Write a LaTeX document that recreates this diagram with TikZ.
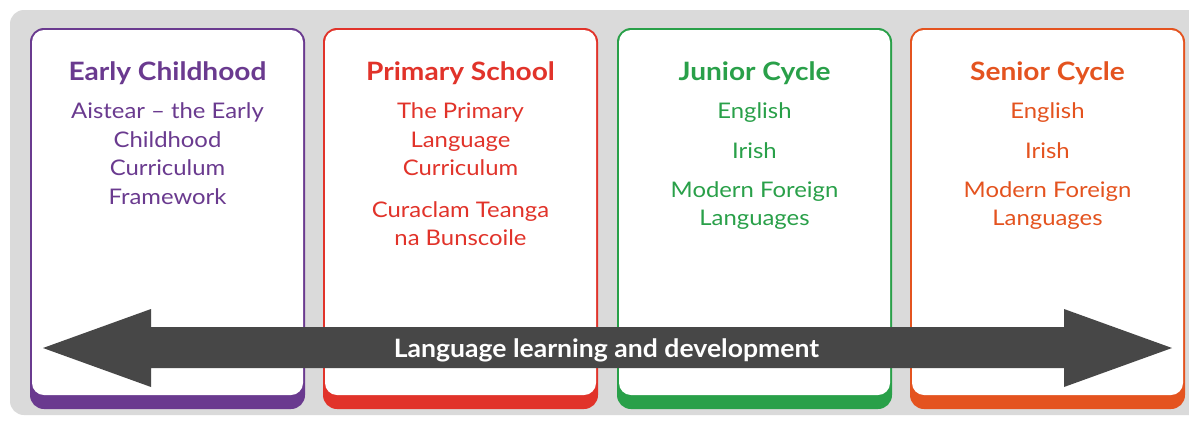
\documentclass[tikz,border=0pt]{standalone}
\usepackage{fontspec}
\setmainfont{Lato}[FakeStretch=1.11]
\newfontfamily\arrowfont{Lato}[FakeStretch=1.05]
\definecolor{cpurple}{HTML}{6A3A8F}
\definecolor{cred}{HTML}{E1332A}
\definecolor{cgreen}{HTML}{29A049}
\definecolor{corange}{HTML}{E4531F}
\definecolor{bggray}{HTML}{DADADA}
\definecolor{arrowgray}{HTML}{474747}
\tikzset{
  title/.style={anchor=base, font=\fontsize{25.3}{28}\selectfont\bfseries, inner sep=0pt},
  body/.style={anchor=base, font=\fontsize{21.5}{28.7}\selectfont, inner sep=0pt},
  arrowtext/.style={anchor=base, font=\arrowfont\fontsize{25.3}{28}\selectfont\bfseries, text=white, inner sep=0pt}
}
\newcommand{\card}[3]{% left x, colour, right x
  \fill[#2, rounded corners=14pt] (#1,28) rectangle (#3,409);
  \fill[white, rounded corners=12pt] (#1+2,30) rectangle (#3-2,395);
}
\begin{document}
\begin{tikzpicture}[x=1pt,y=-1pt]
\useasboundingbox (0,0) rectangle (1189,421);
\fill[white] (0,0) rectangle (1189,421);
\fill[bggray, rounded corners=14pt] (10,10) rectangle (1220,415);
\card{30}{cpurple}{305}
\card{323}{cred}{598}
\card{617}{cgreen}{892}
\card{910}{corange}{1185}
% Early Childhood
\node[title, text=cpurple] (t1) at (167.5,80.5) {Early Childhood};
\node[body, text=cpurple] (e1) at (167.5,118.5) {Aistear – the Early};
\node[body, text=cpurple] (e2) at (167.5,147.5) {Childhood};
\node[body, text=cpurple] (e3) at (167.5,175.5) {Curriculum};
\node[body, text=cpurple] (e4) at (167.5,204.5) {Framework};
% Primary School
\node[title, text=cred] (t2) at (460.5,80.5) {Primary School};
\node[body, text=cred] (p1) at (460.5,118.5) {The Primary};
\node[body, text=cred] (p2) at (460.5,147.5) {Language};
\node[body, text=cred] (p3) at (460.5,175.5) {Curriculum};
\node[body, text=cred] (p4) at (460.5,217.5) {Curaclam Teanga};
\node[body, text=cred] (p5) at (460.5,245.5) {na Bunscoile};
% Junior Cycle
\node[title, text=cgreen] (t3) at (754.5,80.5) {Junior Cycle};
\node[body, text=cgreen] (j1) at (754.5,118.5) {English};
\node[body, text=cgreen] (j2) at (754.5,158.5) {Irish};
\node[body, text=cgreen] (j3) at (754.5,197.5) {Modern Foreign};
\node[body, text=cgreen] (j4) at (754.5,225.5) {Languages};
% Senior Cycle
\node[title, text=corange] (t4) at (1047.5,80.5) {Senior Cycle};
\node[body, text=corange] (s1) at (1047.5,118.5) {English};
\node[body, text=corange] (s2) at (1047.5,158.5) {Irish};
\node[body, text=corange] (s3) at (1047.5,197.5) {Modern Foreign};
\node[body, text=corange] (s4) at (1047.5,225.5) {Languages};
% double arrow
\fill[arrowgray] (43,348) -- (151,309) -- (151,327) -- (1064,327) -- (1064,309)
  -- (1172,348) -- (1064,387) -- (1064,368) -- (151,368) -- (151,387) -- cycle;
\node[arrowtext] (lt) at (606.5,357) {Language learning and development};
\end{tikzpicture}
\end{document}
